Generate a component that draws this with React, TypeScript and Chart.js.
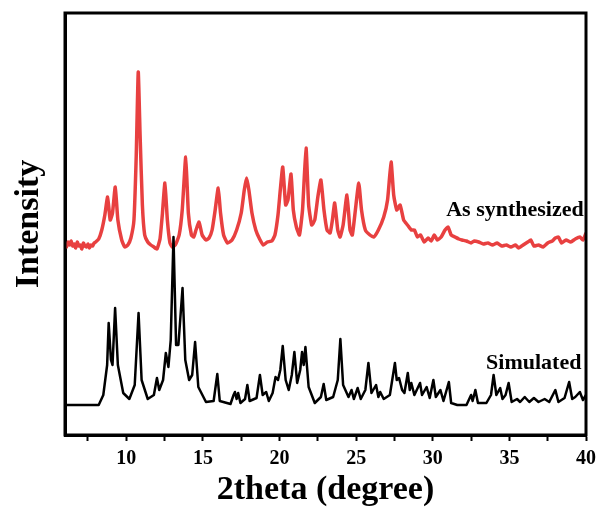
import React, { useEffect, useRef } from "react";
import { Chart, registerables } from "chart.js";

Chart.register(...registerables);

// Simulated pattern (2theta, intensity a.u., offset baseline ~30)
const simTheta = [6, 8.2, 8.5, 8.75, 8.85, 9.0, 9.1, 9.27, 9.45, 9.8, 10.2, 10.55, 10.8, 11.0, 11.4, 11.8, 12.0, 12.15, 12.4, 12.58, 12.75, 12.9, 13.08, 13.25, 13.4, 13.67, 13.85, 14.1, 14.3, 14.49, 14.7, 15.2, 15.7, 15.94, 16.1, 16.8, 17.0, 17.09, 17.2, 17.3, 17.45, 17.75, 17.9, 18.05, 18.5, 18.72, 18.9, 19.13, 19.3, 19.55, 19.74, 19.9, 20.05, 20.21, 20.4, 20.6, 20.8, 20.97, 21.15, 21.35, 21.47, 21.58, 21.69, 21.9, 22.3, 22.7, 22.88, 23.05, 23.5, 23.8, 23.97, 24.15, 24.5, 24.7, 24.85, 25.1, 25.3, 25.6, 25.8, 26.0, 26.3, 26.45, 26.57, 26.8, 27.2, 27.53, 27.65, 27.8, 28.0, 28.15, 28.37, 28.5, 28.6, 28.8, 29.17, 29.3, 29.6, 29.8, 30.04, 30.2, 30.5, 30.7, 31.05, 31.2, 31.6, 32.2, 32.5, 32.6, 32.78, 32.95, 33.5, 33.8, 33.97, 34.15, 34.4, 34.55, 34.75, 34.95, 35.15, 35.5, 35.7, 36.0, 36.3, 36.6, 36.9, 37.3, 37.6, 38.0, 38.2, 38.6, 38.9, 39.1, 39.3, 39.6, 39.8, 40];
const simIntensity = [30, 30, 40, 70, 112, 75, 70, 127, 70, 42, 36, 50, 122, 55, 36, 40, 57, 45, 55, 82, 68, 95, 198, 90, 90, 147, 75, 55, 60, 93, 48, 33, 34, 61, 34, 31, 40, 43, 36, 42, 32, 36, 50, 34, 37, 60, 40, 43, 34, 42, 58, 55, 65, 89, 55, 45, 60, 83, 52, 65, 83, 70, 88, 48, 32, 38, 51, 35, 38, 55, 96, 50, 38, 45, 36, 47, 36, 45, 72, 42, 50, 38, 43, 36, 40, 72, 55, 57, 45, 42, 62, 45, 52, 40, 52, 40, 48, 37, 55, 38, 45, 34, 53, 32, 30, 30, 40, 34, 45, 32, 32, 40, 60, 40, 47, 36, 40, 52, 33, 36, 33, 38, 33, 37, 33, 36, 33, 45, 33, 37, 53, 36, 38, 43, 35, 40];

// As synthesized pattern (2theta, intensity a.u., offset baseline ~190)
const synTheta = [6.0, 6.1, 6.2, 6.3, 6.4, 6.5, 6.6, 6.7, 6.8, 6.9, 7.0, 7.1, 7.2, 7.3, 7.4, 7.5, 7.6, 7.7, 7.8, 7.9, 8.0, 8.2, 8.4, 8.6, 8.78, 8.95, 9.1, 9.28, 9.45, 9.7, 9.9, 10.1, 10.3, 10.5, 10.65, 10.78, 10.9, 11.05, 11.2, 11.4, 11.6, 11.8, 12.0, 12.2, 12.35, 12.52, 12.68, 12.85, 13.0, 13.2, 13.45, 13.65, 13.88, 14.05, 14.25, 14.4, 14.55, 14.75, 14.95, 15.2, 15.4, 15.6, 15.8, 16.0, 16.15, 16.35, 16.6, 16.9, 17.2, 17.5, 17.7, 17.85, 18.0, 18.2, 18.45, 18.7, 18.95, 19.2, 19.5, 19.7, 19.9, 20.05, 20.21, 20.4, 20.55, 20.75, 20.9, 21.1, 21.3, 21.5, 21.73, 21.9, 22.1, 22.3, 22.5, 22.7, 22.9, 23.1, 23.3, 23.45, 23.6, 23.8, 23.95, 24.15, 24.4, 24.6, 24.75, 24.95, 25.17, 25.35, 25.6, 25.9, 26.15, 26.45, 26.8, 27.05, 27.28, 27.45, 27.65, 27.87, 28.1, 28.35, 28.6, 28.8, 29.0, 29.2, 29.45, 29.7, 29.9, 30.1, 30.3, 30.55, 30.8, 31.0, 31.2, 31.45, 31.7, 31.9, 32.2, 32.5, 32.7, 33.0, 33.3, 33.6, 33.9, 34.2, 34.5, 34.8, 35.1, 35.4, 35.6, 35.9, 36.2, 36.4, 36.6, 36.9, 37.2, 37.5, 37.8, 38.0, 38.2, 38.4, 38.7, 39.0, 39.3, 39.6, 39.8, 40.0];
const synIntensity = [192, 188, 193, 190, 194, 189, 191, 187, 193, 189, 190, 186, 192, 189, 188, 191, 187, 190, 189, 192, 193, 196, 205, 220, 238, 215, 222, 248, 215, 195, 188, 190, 197, 215, 280, 363, 300, 230, 200, 193, 190, 188, 186, 196, 220, 252, 215, 192, 188, 190, 200, 225, 278, 222, 200, 198, 205, 213, 200, 195, 197, 205, 225, 247, 222, 200, 192, 195, 205, 222, 245, 257, 245, 222, 205, 196, 190, 193, 194, 200, 220, 245, 268, 230, 235, 261, 225, 208, 200, 225, 287, 230, 210, 215, 238, 255, 225, 205, 202, 215, 232, 205, 198, 210, 240, 205, 200, 225, 252, 225, 205, 200, 198, 205, 218, 235, 273, 240, 225, 230, 215, 210, 205, 205, 198, 200, 193, 197, 194, 200, 195, 198, 205, 208, 200, 198, 196, 195, 194, 192, 194, 193, 191, 192, 190, 192, 189, 190, 188, 190, 187, 190, 193, 195, 189, 190, 188, 192, 194, 197, 198, 192, 195, 193, 196, 198, 195, 202];

const xTicksLabelled = [10, 15, 20, 25, 30, 35, 40];

const seriesLabels = [
  { text: "As synthesized", x: 39.85, y: 225 },
  { text: "Simulated", x: 39.7, y: 72 },
];

const toPoints = (xs: number[], ys: number[]) => xs.map((x, i) => ({ x, y: ys[i] }));

const SERIF = "'Liberation Serif', 'Times New Roman', serif";

export default function App() {
  const ref = useRef<HTMLCanvasElement | null>(null);

  useEffect(() => {
    if (!ref.current) return;
    const framePlugin = {
      id: "frame",
      afterDatasetsDraw(chart: any) {
        const { ctx, chartArea } = chart;
        ctx.save();
        ctx.strokeStyle = "#000";
        ctx.lineWidth = 3;
        ctx.strokeRect(chartArea.left, chartArea.top, chartArea.right - chartArea.left, chartArea.bottom - chartArea.top);
        const xs = chart.scales.x;
        const ys = chart.scales.y;
        ctx.fillStyle = "#000";
        ctx.font = `bold 22px ${SERIF}`;
        ctx.textAlign = "right";
        ctx.textBaseline = "middle";
        seriesLabels.forEach((l) => {
          ctx.fillText(l.text, xs.getPixelForValue(l.x), ys.getPixelForValue(l.y));
        });
        ctx.restore();
      },
    };

    const chart = new Chart(ref.current, {
      type: "scatter",
      data: {
        datasets: [
          {
            label: "Simulated",
            data: toPoints(simTheta, simIntensity),
            showLine: true,
            borderColor: "#000000",
            borderWidth: 2.5,
            pointRadius: 0,
            tension: 0,
            borderJoinStyle: "round",
          },
          {
            label: "As synthesized",
            data: toPoints(synTheta, synIntensity),
            showLine: true,
            borderColor: "#e84040",
            borderWidth: 3.5,
            pointRadius: 0,
            tension: 0.15,
          },
        ],
      },
      options: {
        animation: false,
        responsive: false,
        layout: { padding: { top: 13, right: 10, left: 0, bottom: 0 } },
        plugins: { legend: { display: false }, tooltip: { enabled: false } },
        scales: {
          x: {
            type: "linear",
            min: 6,
            max: 40,
            afterFit(scale: any) {
              scale.height = 72;
            },
            afterBuildTicks(scale: any) {
              scale.ticks = scale.ticks.filter((t: any) => Math.abs(t.value / 2.5 - Math.round(t.value / 2.5)) < 1e-6);
            },
            border: { display: true, color: "#000", width: 3 },
            grid: { drawOnChartArea: false, tickLength: 6, tickWidth: 2, tickColor: "#000" },
            ticks: {
              stepSize: 2.5,
              autoSkip: false,
              maxRotation: 0,
              color: "#000",
              padding: 6,
              font: { family: SERIF, size: 20, weight: "bold" },
              callback: (v: any) => (xTicksLabelled.includes(Number(v)) ? String(v) : ""),
            },
            title: {
              display: true,
              text: "2theta (degree)",
              color: "#000",
              font: { family: SERIF, size: 34, weight: "bold", lineHeight: 1 },
              padding: { top: 0, bottom: 0 },
            },
          },
          y: {
            min: 0,
            max: 422,
            afterFit(scale: any) {
              scale.width = 65;
            },
            border: { display: true, color: "#000", width: 3 },
            grid: { display: false },
            ticks: { display: false },
            title: {
              display: true,
              text: "Intensity",
              color: "#000",
              font: { family: SERIF, size: 34, weight: "bold", lineHeight: 1 },
              padding: { top: 12, bottom: 0 },
            },
          },
        },
      },
      plugins: [framePlugin],
    } as any);
    return () => chart.destroy();
  }, []);

  return (
    <div style={{ position: "absolute", left: 0, top: 0, width: 602, height: 507, background: "#fff" }}>
      <canvas ref={ref} width={602} height={507} />
    </div>
  );
}
